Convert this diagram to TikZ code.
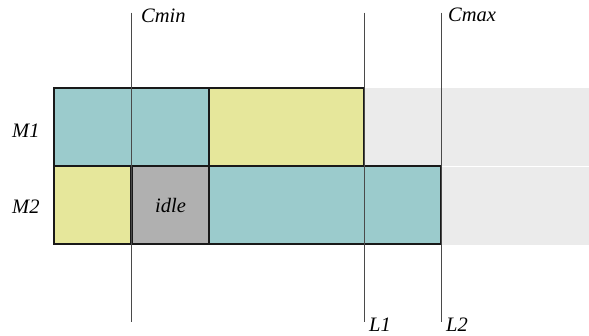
\documentclass[tikz,border=0pt]{standalone}
\usepackage{fontspec}
\setmainfont{Liberation Serif}
\definecolor{jobteal}{HTML}{9BCBCC}
\definecolor{jobyellow}{HTML}{E6E79B}
\definecolor{idlegray}{HTML}{B0B0B0}
\definecolor{bggray}{HTML}{EBEBEB}
\definecolor{markline}{HTML}{4A4A4A}
\tikzset{
  job/.style={draw=black!90, line width=2.2pt, rectangle, inner sep=0pt},
  lbl/.style={font=\fontsize{20.5}{24}\selectfont\itshape, inner sep=0pt, anchor=base west},
  marker/.style={draw=markline, line width=0.9pt},
}
\begin{document}
\begin{tikzpicture}[x=1pt, y=-1pt]
\useasboundingbox (0,0) rectangle (589,336);
% free time after each machine finishes
\fill[bggray] (364,88) rectangle (589,165.8);
\fill[bggray] (441,167.2) rectangle (589,245);
% machine M1
\node[job, fill=jobteal, minimum width=155pt, minimum height=78pt] (m1a) at (131.5,127) {};
\node[job, fill=jobyellow, minimum width=155pt, minimum height=78pt] (m1b) at (286.5,127) {};
% machine M2
\node[job, fill=jobyellow, minimum width=77.5pt, minimum height=78pt] (m2a) at (92.75,205) {};
\node[job, fill=idlegray, minimum width=77.5pt, minimum height=78pt] (m2b) at (170.25,205) {};
\node[job, fill=jobteal, minimum width=232pt, minimum height=78pt] (m2c) at (325,205) {};
\node[font=\fontsize{20.5}{24}\selectfont\itshape, inner sep=0pt, anchor=base] (idle) at (170.5,212.5) {idle};
% marker lines
\coordinate (cmintop) at (131.5,12.7);
\coordinate (cminbot) at (131.5,322.3);
\coordinate (l1top) at (364,12.7);
\coordinate (l1bot) at (364,322.3);
\coordinate (l2top) at (441,12.7);
\coordinate (l2bot) at (441,322.3);
\draw[marker] (cmintop) -- (cminbot);
\draw[marker] (l1top) -- (l1bot);
\draw[marker] (l2top) -- (l2bot);
% labels
\node[lbl] (cmin) at (141,22.7) {Cmin};
\node[lbl] (cmax) at (448,22) {Cmax};
\node[lbl] (l1) at (369,331.5) {L1};
\node[lbl] (l2) at (446,331.5) {L2};
\node[lbl] (m1) at (12,138) {M1};
\node[lbl] (m2) at (12,214) {M2};
\end{tikzpicture}
\end{document}
